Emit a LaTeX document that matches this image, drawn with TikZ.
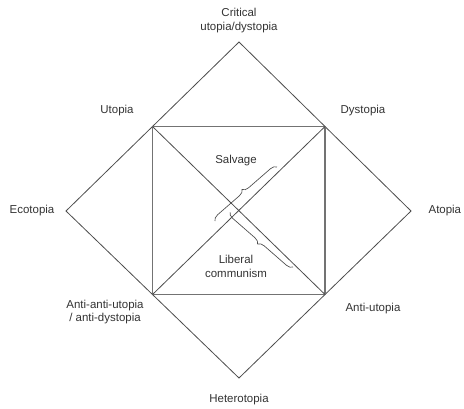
\documentclass[tikz,border=0pt]{standalone}
\usepackage{fontspec}
\setmainfont{Liberation Sans}
\usetikzlibrary{calc}
\usetikzlibrary{decorations.pathreplacing}

\begin{document}
\begin{tikzpicture}[x=0.75pt, y=-0.75pt,
        lbl/.style={text=black!80, font=\fontsize{8.6}{10.4}\selectfont, align=center, inner sep=1pt},
        outer/.style={draw=black!70, line width=0.6pt},
        inner/.style={draw=black!55, line width=1.1pt},
        brc/.style={draw=black!70, line width=0.5pt, decorate, decoration={brace, amplitude=4.5pt}}]
        \useasboundingbox (0,0) rectangle (464,408);
        % outer diamond
        \coordinate (T) at (239,42);
        \coordinate (R) at (411,211);
        \coordinate (B) at (239,378);
        \coordinate (L) at (66,211);
        \draw[outer] (T) -- (R) -- (B) -- (L) -- cycle;
        % inner square
        \coordinate (UL) at ($(T)!0.5!(L)$);
        \coordinate (UR) at ($(T)!0.5!(R)$);
        \coordinate (LR) at ($(B)!0.5!(R)$);
        \coordinate (LL) at ($(B)!0.5!(L)$);
        \draw[inner] (UL) -- (UR) -- (LR) -- (LL) -- cycle;
        \draw[outer] (UL) -- (LR);
        \draw[outer] (UR) -- (LL);
        % braces
        \coordinate (b1s) at (215,221);
        \coordinate (b1e) at (277,167);
        \coordinate (b2s) at (293,267);
        \coordinate (b2e) at (230,212);
        \draw[brc] (b1s) -- (b1e);
        \draw[brc] (b2s) -- (b2e);
        % labels
        \node[lbl, anchor=south] (crit) at (239,34) {Critical\\utopia/dystopia};
        \node[lbl] (utop) at (117,111) {Utopia};
        \node[lbl] (dyst) at (363,111) {Dystopia};
        \node[lbl] (ecot) at (32,211) {Ecotopia};
        \node[lbl, anchor=west] (atop) at (427,211) {Atopia};
        \node[lbl] (aau) at (105,312) {Anti-anti-utopia\\/ anti-dystopia};
        \node[lbl] (antu) at (373,309) {Anti-utopia};
        \node[lbl] (hete) at (239,400) {Heterotopia};
        \node[lbl] (salv) at (236,161) {Salvage};
        \node[lbl] (libc) at (236,266) {Liberal\\communism};
\end{tikzpicture}
\end{document}
